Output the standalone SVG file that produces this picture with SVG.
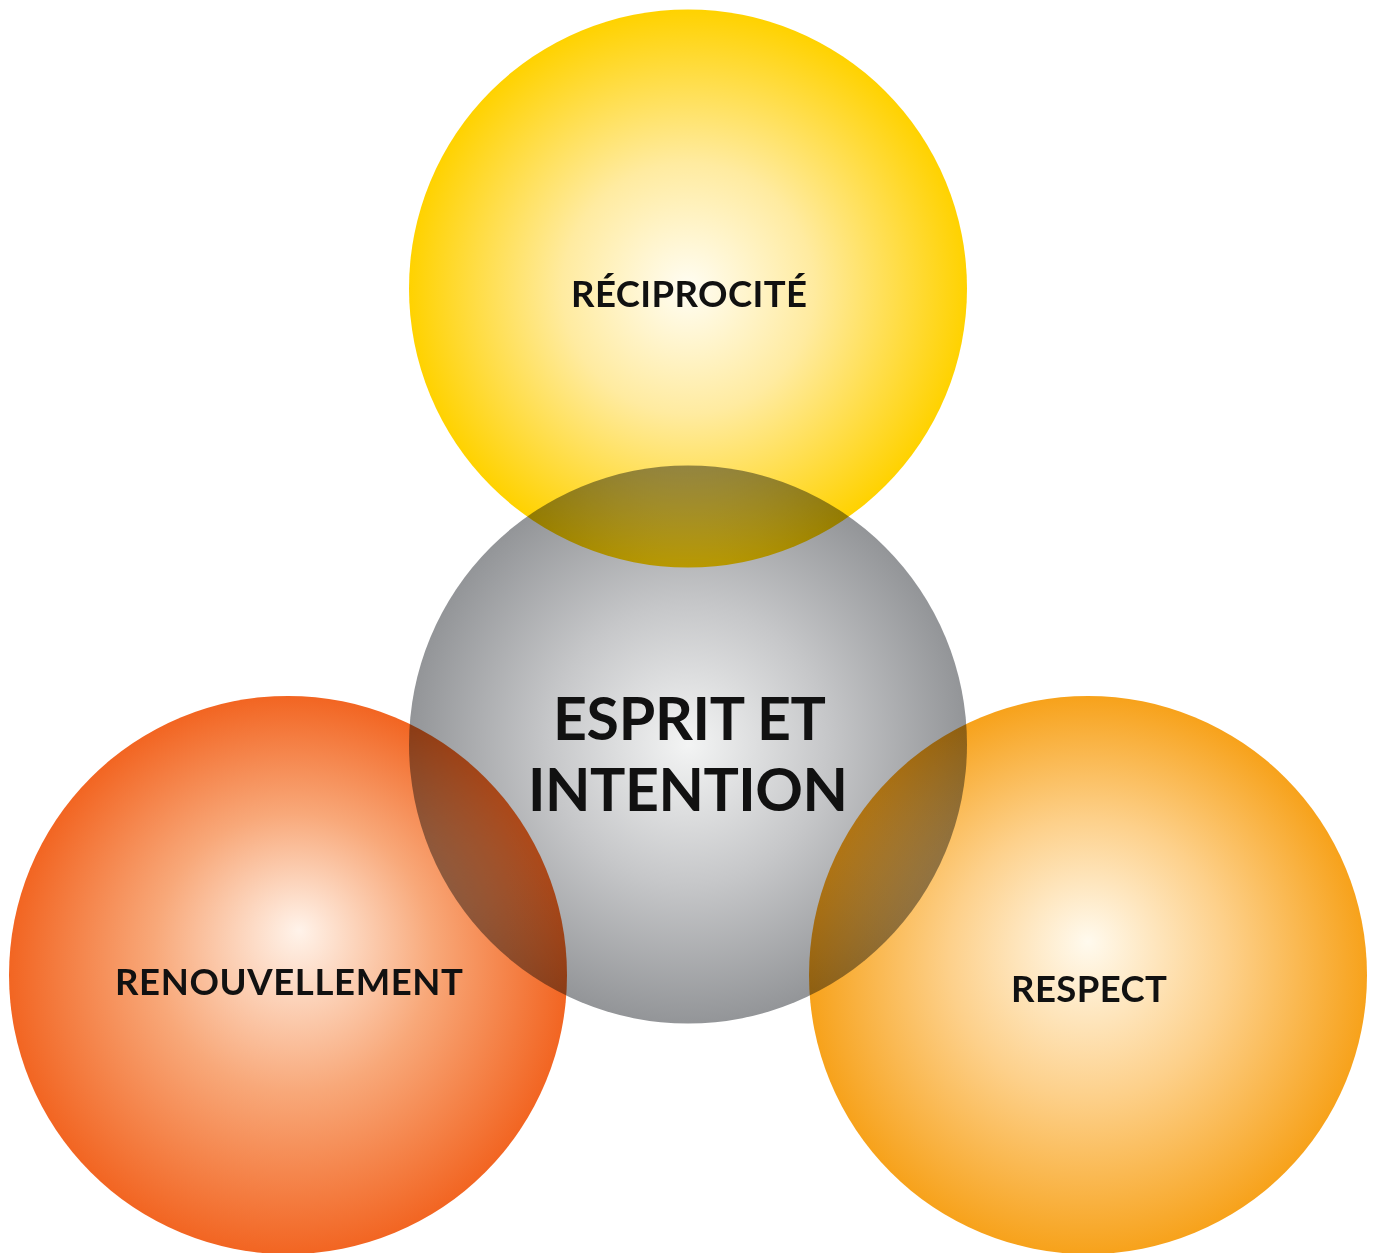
<svg xmlns="http://www.w3.org/2000/svg" width="1374" height="1253" viewBox="0 0 1374 1253">
<style>
.lbl{font-family:Lato,"Liberation Sans",sans-serif;font-weight:700;fill:#111111;text-anchor:middle}
.small{font-size:36.5px}
.big{font-size:59px}
</style>
<defs>
<radialGradient id="gY" cx="0.5" cy="0.5" r="0.5">
<stop offset="0" stop-color="#FFFDF3"/>
<stop offset="0.45" stop-color="#FFEBA0"/>
<stop offset="1" stop-color="#FFD200"/>
</radialGradient>
<radialGradient id="gG" cx="0.5" cy="0.5" r="0.5">
<stop offset="0" stop-color="#F3F4F4"/>
<stop offset="0.5" stop-color="#C6C7C9"/>
<stop offset="1" stop-color="#939598"/>
</radialGradient>
<radialGradient id="gL" cx="0.5" cy="0.5" r="0.5" fx="0.52" fy="0.42">
<stop offset="0" stop-color="#FFF3EA"/>
<stop offset="0.5" stop-color="#F8A879"/>
<stop offset="1" stop-color="#F26522"/>
</radialGradient>
<radialGradient id="gR" cx="0.5" cy="0.5" r="0.5" fx="0.5" fy="0.44">
<stop offset="0" stop-color="#FFFAEE"/>
<stop offset="0.5" stop-color="#FDD08A"/>
<stop offset="1" stop-color="#F7A21B"/>
</radialGradient>
</defs>
<g id="node-reciprocite">
<circle cx="688" cy="288.5" r="279" fill="url(#gY)"/>
</g>
<g id="node-renouvellement">
<circle cx="288" cy="975" r="279" fill="url(#gL)"/>
</g>
<g id="node-respect">
<circle cx="1088" cy="975" r="279" fill="url(#gR)"/>
</g>
<g id="node-esprit" style="mix-blend-mode:multiply">
<circle cx="688" cy="744.5" r="279" fill="url(#gG)"/>
</g>
<g id="connectors"></g>
<g id="labels">
<text class="lbl small" x="689" y="307" textLength="236" lengthAdjust="spacing">RÉCIPROCITÉ</text>
<text class="lbl small" x="289" y="995" textLength="348" lengthAdjust="spacing">RENOUVELLEMENT</text>
<text class="lbl small" x="1089" y="1002" textLength="156" lengthAdjust="spacing">RESPECT</text>
<text class="lbl big" x="689.5" y="740" textLength="273" lengthAdjust="spacing">ESPRIT ET</text>
<text class="lbl big" x="688" y="811" textLength="320" lengthAdjust="spacing">INTENTION</text>
</g>
</svg>
